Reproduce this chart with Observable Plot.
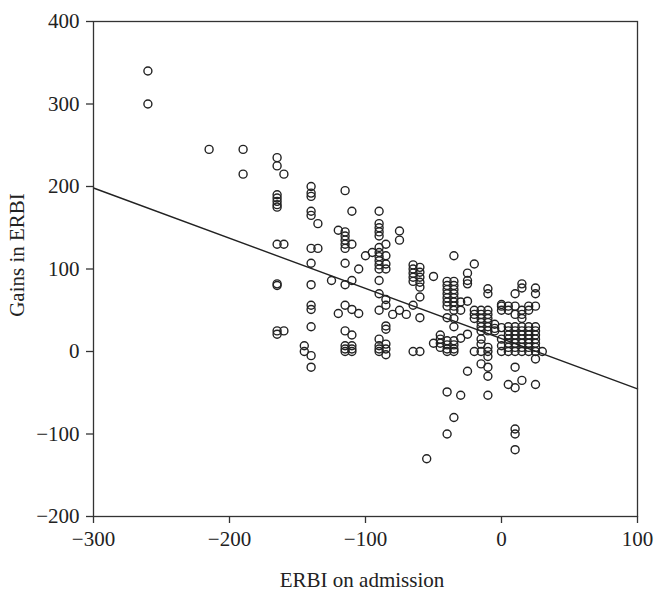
<!DOCTYPE html>
<html>
<head>
<meta charset="utf-8">
<script src="https://cdn.jsdelivr.net/npm/d3@7"></script>
<script src="https://cdn.jsdelivr.net/npm/@observablehq/plot@0.6"></script>
<style>
  html, body { margin: 0; padding: 0; background: #fff; }
  #chart { width: 666px; height: 593px; overflow: hidden; }
</style>
</head>
<body>
<div id="chart"></div>
<script>
// ERBI on admission values (x columns) and the gains observed at each
const admissionLevels = [-260, -215, -190, -165, -160, -145, -140, -135, -125, -120, -115, -110, -105, -100, -95, -90, -85, -80, -75, -70, -65, -60, -55, -50, -45, -40, -35, -30, -25, -20, -15, -10, -5, 0, 5, 10, 15, 20, 25, 30];
const gainsByLevel = [
  [340, 300],
  [245],
  [245, 215],
  [235, 225, 190, 186, 182, 178, 175, 130, 82, 80, 25, 21],
  [215, 130, 25],
  [7, 0],
  [200, 192, 188, 170, 165, 125, 107, 81, 56, 51, 30, -5, -19],
  [155, 125],
  [86],
  [147, 46],
  [195, 145, 140, 135, 130, 125, 107, 81, 56, 25, 7, 3, 0],
  [170, 130, 86, 51, 20, 7, 3, 0],
  [100, 46],
  [116],
  [120],
  [170, 155, 150, 145, 140, 126, 120, 115, 110, 105, 100, 86, 70, 50, 15, 7, 3, 0],
  [130, 116, 106, 100, 63, 56, 31, 27, 9, 3, -4],
  [45],
  [146, 135, 50],
  [45],
  [105, 100, 95, 90, 85, 56, 0],
  [102, 96, 90, 84, 78, 66, 41, 0],
  [-130],
  [91, 10],
  [20, 15, 10, 5],
  [85, 80, 75, 70, 65, 60, 55, 41, 13, 8, 3, 0, -49, -100],
  [116, 85, 80, 75, 70, 65, 60, 55, 50, 40, 30, 13, 8, 3, 0, -80],
  [60, 50, 16, -53],
  [95, 86, 82, 61, 21, -24],
  [106, 50, 45, 40, 0],
  [50, 45, 40, 35, 30, 25, 15, 9, 0, -15],
  [76, 70, 50, 45, 40, 35, 30, 25, 5, 0, -6, -19, -30, -53],
  [33, 28, 25],
  [57, 55, 50, 29, 15, 7, 0],
  [55, 50, 30, 25, 20, 15, 10, 5, 0, -40],
  [70, 55, 45, 30, 25, 20, 15, 10, 5, 0, -19, -44, -94, -100, -119],
  [82, 77, 50, 45, 40, 30, 25, 20, 15, 10, 5, 0, -35],
  [55, 50, 30, 25, 20, 15, 10, 5, 0],
  [77, 70, 55, 30, 25, 20, 15, 10, 5, 0, -9, -40],
  [0]
];
// fitted regression line
const fitIntercept = 15.5;
const fitSlope = -0.609;
const xTicks = [-300, -200, -100, 0, 100];
const yTicks = [-200, -100, 0, 100, 200, 300, 400];
const xDomain = [-300, 100];
const yDomain = [-200, 400];

const points = admissionLevels.flatMap((x, i) => gainsByLevel[i].map(y => ({x, y})));
const fit = xDomain.map(x => ({x, y: fitIntercept + fitSlope * x}));
const fmt = d => d < 0 ? "\u2212" + Math.abs(d) : String(d);

const plot = Plot.plot({
  width: 666,
  height: 593,
  marginLeft: 93,
  marginRight: 29,
  marginTop: 21,
  marginBottom: 77,
  style: {fontFamily: "'Liberation Serif', 'DejaVu Serif', serif", fontSize: "20px", color: "#222", background: "#fff"},
  x: {domain: xDomain, label: null},
  y: {domain: yDomain, label: null},
  marks: [
    Plot.axisX({ticks: xTicks, tickFormat: fmt, tickSize: 7, tickPadding: 8, fontSize: 21, stroke: "#333", strokeWidth: 1.3, label: null}),
    Plot.axisY({ticks: yTicks, tickFormat: fmt, tickSize: 7, tickPadding: 7, fontSize: 21, stroke: "#333", strokeWidth: 1.3, label: null}),
    Plot.line(fit, {x: "x", y: "y", stroke: "#222", strokeWidth: 1.4}),
    Plot.dot(points, {x: "x", y: "y", r: 4, stroke: "#222", strokeWidth: 1.4, fill: "none"}),
    Plot.frame({stroke: "#333", strokeWidth: 1.3})
  ]
});

const svg = d3.select(plot);
svg.append("text")
  .attr("transform", "translate(24,255) rotate(-90)")
  .attr("text-anchor", "middle")
  .attr("font-family", "'Liberation Serif', serif")
  .attr("font-size", 21)
  .attr("fill", "#222")
  .text("Gains in ERBI");
svg.append("text")
  .attr("x", 362)
  .attr("y", 587)
  .attr("text-anchor", "middle")
  .attr("font-family", "'Liberation Serif', serif")
  .attr("font-size", 21)
  .attr("fill", "#222")
  .text("ERBI on admission");

document.getElementById("chart").appendChild(plot);
</script>
</body>
</html>
